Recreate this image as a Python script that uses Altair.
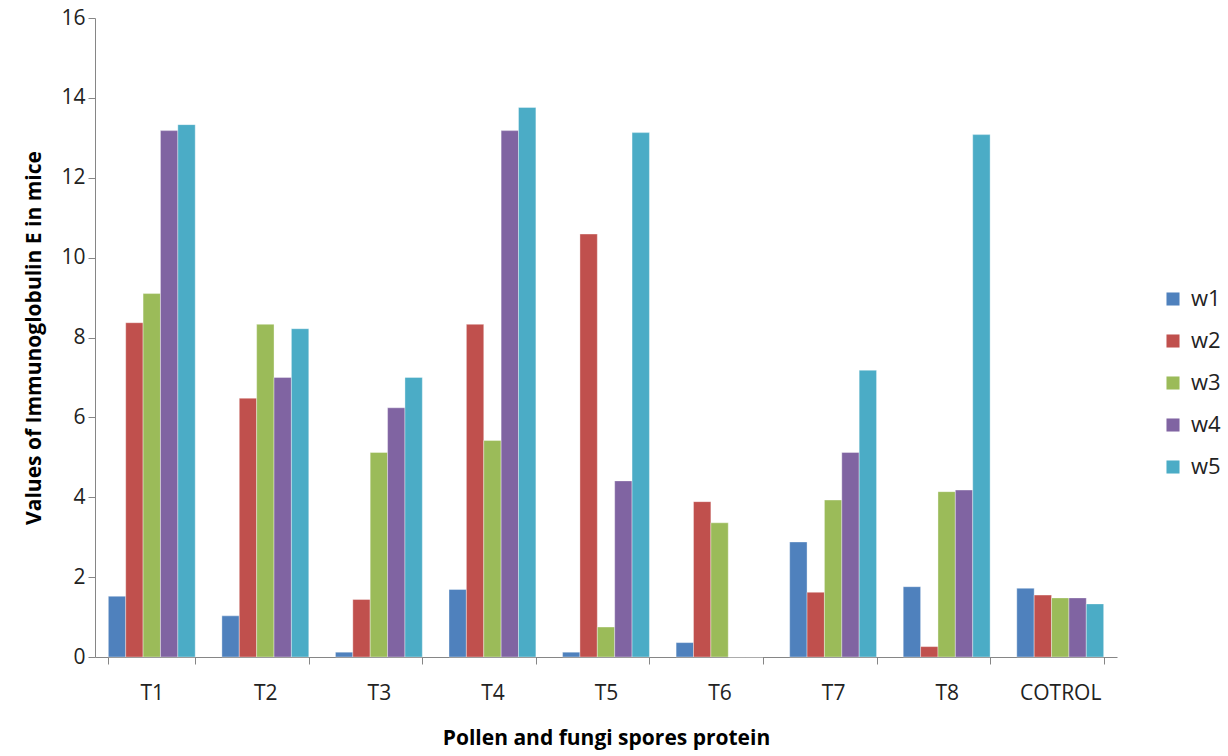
import altair as alt
import pandas as pd

categories = ["T1", "T2", "T3", "T4", "T5", "T6", "T7", "T8", "COTROL"]
series = ["w1", "w2", "w3", "w4", "w5"]
w1 = [1.52, 1.03, 0.12, 1.69, 0.12, 0.36, 2.88, 1.76, 1.72]
w2 = [8.37, 6.48, 1.44, 8.33, 10.59, 3.89, 1.62, 0.26, 1.55]
w3 = [9.10, 8.33, 5.12, 5.42, 0.75, 3.36, 3.93, 4.14, 1.48]
w4 = [13.18, 7.00, 6.24, 13.18, 4.41, 0.0, 5.12, 4.18, 1.48]
w5 = [13.33, 8.22, 7.00, 13.76, 13.13, 0.0, 7.18, 13.08, 1.33]
colors = ["#4F81BD", "#C0504D", "#9BBB59", "#8064A2", "#4BACC6"]

rows = []
for s, vals in zip(series, [w1, w2, w3, w4, w5]):
    for c, v in zip(categories, vals):
        rows.append({"cat": c, "series": s, "value": v})
df = pd.DataFrame(rows)

font = "Open Sans"
chart = alt.Chart(df).mark_bar(stroke="white", strokeWidth=0.6, strokeOpacity=0.6).encode(
    x=alt.X("cat:N", sort=categories, scale=alt.Scale(paddingInner=0.235, paddingOuter=0.1175),
            axis=alt.Axis(title="Pollen and fungi spores protein", labelAngle=0, tickBand="extent",
                          domainColor="#868686", tickColor="#868686", tickSize=7,
                          labelFontSize=21, labelFont=font, labelColor="#222222", labelPadding=18,
                          titleFontSize=21, titleFont=font, titleFontWeight="bold", titleColor="#000000",
                          titlePadding=24)),
    xOffset=alt.XOffset("series:N", sort=series, scale=alt.Scale(paddingInner=0, paddingOuter=0)),
    y=alt.Y("value:Q", scale=alt.Scale(domain=[0, 16], nice=False),
            axis=alt.Axis(title="Values of Immunoglobulin E  in mice", values=list(range(0, 17, 2)),
                          grid=False, domainColor="#868686", tickColor="#868686", tickSize=7,
                          labelFontSize=21, labelFont=font, labelColor="#222222", labelPadding=3,
                          titleFontSize=21, titleFont=font, titleFontWeight="bold", titleColor="#000000",
                          titlePadding=16)),
    color=alt.Color("series:N", sort=series, scale=alt.Scale(domain=series, range=colors),
                    legend=alt.Legend(title=None, orient="none", legendX=1067, legendY=270,
                                      symbolType="square", symbolSize=170, symbolStrokeWidth=0,
                                      labelFontSize=22, labelFont=font, labelColor="#222222",
                                      rowPadding=20, labelOffset=7)),
).properties(
    width=1022, height=639,
    autosize=alt.AutoSizeParams(type="none"),
    padding={"left": 95, "top": 18, "right": 111, "bottom": 99},
).configure(background="white").configure_view(stroke=None)

chart.save("out.html", embed_options={"renderer": "svg", "actions": False})
